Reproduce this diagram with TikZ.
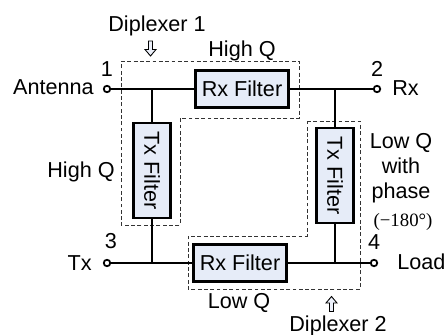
\documentclass[tikz,border=0pt]{standalone}
\usepackage{fontspec}
\setmainfont{Liberation Sans}
\newfontfamily\phasefont{Liberation Serif}
\usetikzlibrary{positioning, calc}
\definecolor{filterfill}{RGB}{230,236,248}
\definecolor{arrowfill}{RGB}{236,240,250}
\tikzset{
  filter/.style  = {draw, line width=1.4pt, fill=filterfill, inner sep=0pt,
                    font=\fontsize{12.3}{15}\selectfont},
  hfilter/.style = {filter, minimum width=1.86cm, minimum height=0.74cm},
  vfilter/.style = {filter, minimum width=0.74cm, minimum height=1.9cm},
  port/.style    = {draw, circle, line width=1pt, fill=white, minimum size=0.13cm, inner sep=0pt},
  wire/.style    = {line width=1.1pt},
  dip/.style     = {dash pattern=on 2.2pt off 1.4pt, line width=0.55pt, draw=black!80},
  lbl/.style     = {font=\fontsize{12.3}{15}\selectfont, inner sep=0pt}
}
\newcommand{\hollowarrow}[3]{% x, y, angle
  \begin{scope}[shift={(#1,#2)}, rotate=#3]
    \draw[fill=arrowfill, line width=0.5pt] (-2,-7.5) -- (2,-7.5) -- (2,1) -- (5.5,1)
      -- (0,7.5) -- (-5.5,1) -- (-2,1) -- cycle;
  \end{scope}
}

\begin{document}
\begin{tikzpicture}[x=0.02cm, y=-0.02cm]
\useasboundingbox (0,0) rectangle (445,334);
% diplexer outlines
\draw[dip] (121,61) -- (299,61) -- (299,118) -- (180,118) -- (180,225) -- (121,225) -- cycle;
\draw[dip] (307,121) -- (360,121) -- (360,289) -- (188,289) -- (188,236) -- (307,236) -- cycle;
% filters
\node[hfilter] (rxtop)   at (242,89)    {Rx Filter};
\node[hfilter] (rxbot)   at (240,263)   {Rx Filter};
\node[vfilter] (txleft)  at (152,170.5) {\rotatebox{-90}{Tx Filter}};
\node[vfilter] (txright) at (335,175.5) {\rotatebox{-90}{Tx Filter}};
% ports
\node[port] (ant)  at (107,89)  {};
\node[port] (rx)   at (377,89)  {};
\node[port] (tx)   at (107,263) {};
\node[port] (load) at (374,263) {};
% wires
\draw[wire] (ant) -- (rxtop);
\draw[wire] (rxtop) -- (rx);
\draw[wire] (tx) -- (rxbot);
\draw[wire] (rxbot) -- (load);
\draw[wire] (txleft.north) -- (txleft.north |- ant);
\draw[wire] (txleft.south) -- (txleft.south |- tx);
\draw[wire] (txright.north) -- (txright.north |- rx);
\draw[wire] (txright.south) -- (txright.south |- load);
% labels
\node[lbl, anchor=base]      (num1)  at (107,77)  {1};
\node[lbl, anchor=base]      (num2)  at (377,77)  {2};
\node[lbl, anchor=base]      (num3)  at (111,248) {3};
\node[lbl, anchor=base]      (num4)  at (374,249) {4};
\node[lbl, anchor=base east] (antl)  at (94,95)   {Antenna};
\node[lbl, anchor=base west] (rxl)   at (392,96)  {Rx};
\node[lbl, anchor=base east] (txl)   at (92,270)  {Tx};
\node[lbl, anchor=base west] (loadl) at (397,269) {Load};
\node[lbl, anchor=base] (dip1)  at (157,32)  {Diplexer 1};
\node[lbl, anchor=base] (dip2)  at (338,331) {Diplexer 2};
\node[lbl, anchor=base] (qtop)  at (242,57)  {High Q};
\node[lbl, anchor=base] (qleft) at (81,177)  {High Q};
\node[lbl, anchor=base] (qbot)  at (239,308) {Low Q};
\node[lbl, anchor=base] (qright) at (401,148) {Low Q};
\node[lbl, anchor=base] (with)  at (401,173) {with};
\node[lbl, anchor=base] (phase) at (401,198) {phase};
\node[inner sep=0pt, anchor=base, font=\phasefont\fontsize{10.7}{13}\selectfont] (deg) at (403,226) {(−180°)};
% arrows to the diplexers
\hollowarrow{150.5}{48.5}{0}
\hollowarrow{331.5}{304}{180}
\end{tikzpicture}
\end{document}
